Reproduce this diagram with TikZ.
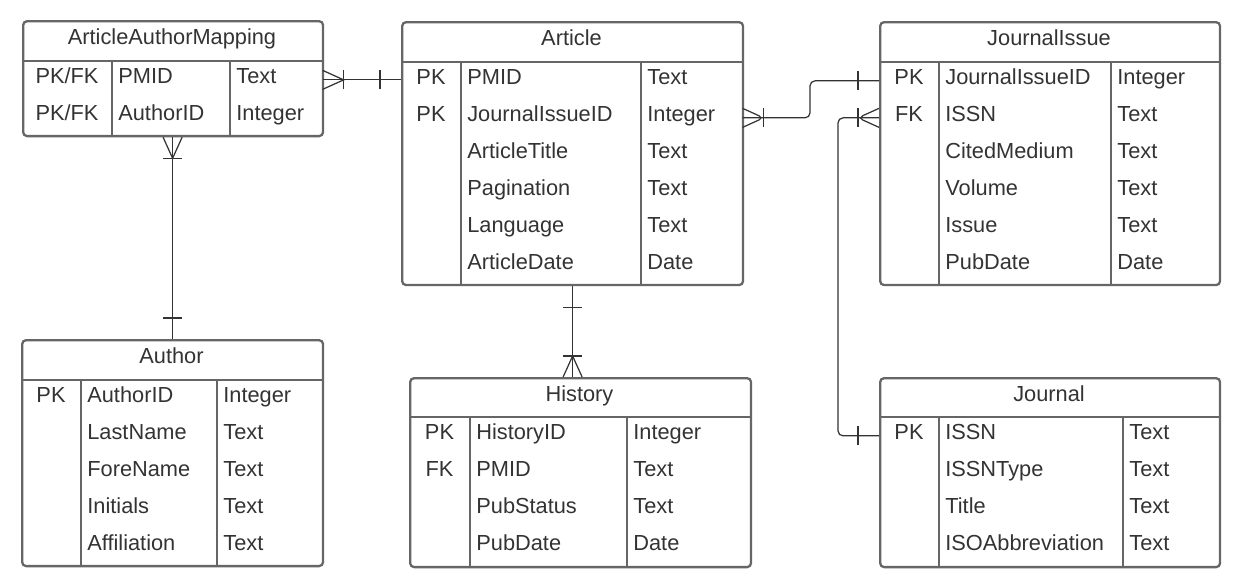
\documentclass[tikz,border=0pt]{standalone}
\usepackage{fontspec}
\setmainfont{Liberation Sans}
\usetikzlibrary{decorations.markings}

\definecolor{boxgray}{HTML}{666666}
\definecolor{ink}{HTML}{333333}

\tikzset{
  tbl/.style={draw=boxgray, line width=1.3pt, rounded corners=0.08cm, anchor=north west, inner sep=0pt},
  rule/.style={draw=boxgray, line width=1.3pt},
  rowbox/.style={anchor=north west, inner sep=0pt, minimum height=0.74cm},
  title/.style={anchor=base, inner sep=0pt, text=ink},
  keycell/.style={anchor=base, inner sep=0pt, text=ink},
  cell/.style={anchor=base west, inner sep=0pt, text=ink},
  rel/.style={draw=ink, line width=0.7pt},
  % crow's foot marks
  one start/.style={postaction={decorate, decoration={markings, mark=at position 0 with {\draw[rel] (0.42cm,-0.19cm) -- (0.42cm,0.19cm);}}}},
  one end/.style={postaction={decorate, decoration={markings, mark=at position 1 with {\draw[rel] (-0.42cm,-0.19cm) -- (-0.42cm,0.19cm);}}}},
  many start/.style={postaction={decorate, decoration={markings, mark=at position 0 with {\draw[rel] (0.42cm,-0.19cm) -- (0.42cm,0.19cm); \draw[rel] (0,-0.19cm) -- (0.42cm,0) -- (0,0.19cm);}}}},
  many end/.style={postaction={decorate, decoration={markings, mark=at position 1 with {\draw[rel] (-0.42cm,-0.19cm) -- (-0.42cm,0.19cm); \draw[rel] (0,-0.19cm) -- (-0.42cm,0) -- (0,0.19cm);}}}}
}

\begin{document}
\begin{tikzpicture}[x=0.02cm, y=-0.02cm, font=\fontsize{12.4}{15}\selectfont]
  \useasboundingbox (0,0) rectangle (1241,586);

  % ArticleAuthorMapping
  \node[tbl, minimum width=6cm, minimum height=2.3cm] (aam) at (22,20) {};
  \node[title] (aam-title) at (172,44.5) {ArticleAuthorMapping};
  \draw[rule] (22,61) -- (322,61) (112,61) -- (112,135) (230,61) -- (230,135);
  \node[rowbox, minimum width=6cm] (aam-r1) at (22,61) {};
  \node[rowbox, minimum width=6cm] (aam-r2) at (22,98) {};
  \node[keycell] (aam-k1) at (67,83.5) {PK/FK};
  \node[cell] (aam-f1) at (118,83.5) {PMID};
  \node[cell] (aam-t1) at (236,83.5) {Text};
  \node[keycell] (aam-k2) at (67,120.5) {PK/FK};
  \node[cell] (aam-f2) at (118,120.5) {AuthorID};
  \node[cell] (aam-t2) at (236,120.5) {Integer};

  % Article
  \node[tbl, minimum width=6.82cm, minimum height=5.26cm] (article) at (401,21) {};
  \node[title] (article-title) at (571.5,45) {Article};
  \draw[rule] (401,62) -- (742,62) (461,62) -- (461,284) (641,62) -- (641,284);
  \foreach \k/\f/\t [count=\i] in {PK/PMID/Text, PK/JournalIssueID/Integer, /ArticleTitle/Text, /Pagination/Text, /Language/Text, /ArticleDate/Date}{
    \node[rowbox, minimum width=6.82cm] (article-r\i) at (401,{62+37*(\i-1)}) {};
    \node[keycell] (article-k\i) at (431,{84.5+37*(\i-1)}) {\k};
    \node[cell] (article-f\i) at (467,{84.5+37*(\i-1)}) {\f};
    \node[cell] (article-t\i) at (647,{84.5+37*(\i-1)}) {\t};
  }

  % JournalIssue
  \node[tbl, minimum width=6.8cm, minimum height=5.26cm] (issue) at (879,21) {};
  \node[title] (issue-title) at (1049,45) {JournalIssue};
  \draw[rule] (879,62) -- (1219,62) (939,62) -- (939,284) (1111,62) -- (1111,284);
  \foreach \k/\f/\t [count=\i] in {PK/JournalIssueID/Integer, FK/ISSN/Text, /CitedMedium/Text, /Volume/Text, /Issue/Text, /PubDate/Date}{
    \node[rowbox, minimum width=6.8cm] (issue-r\i) at (879,{62+37*(\i-1)}) {};
    \node[keycell] (issue-k\i) at (909,{84.5+37*(\i-1)}) {\k};
    \node[cell] (issue-f\i) at (945,{84.5+37*(\i-1)}) {\f};
    \node[cell] (issue-t\i) at (1117,{84.5+37*(\i-1)}) {\t};
  }

  % Author
  \node[tbl, minimum width=6.02cm, minimum height=4.52cm] (author) at (21,339) {};
  \node[title] (author-title) at (171.5,363.5) {Author};
  \draw[rule] (21,380) -- (322,380) (81,380) -- (81,565) (217,380) -- (217,565);
  \foreach \k/\f/\t [count=\i] in {PK/AuthorID/Integer, /LastName/Text, /ForeName/Text, /Initials/Text, /Affiliation/Text}{
    \node[rowbox, minimum width=6.02cm] (author-r\i) at (21,{380+37*(\i-1)}) {};
    \node[keycell] (author-k\i) at (51,{402.5+37*(\i-1)}) {\k};
    \node[cell] (author-f\i) at (87,{402.5+37*(\i-1)}) {\f};
    \node[cell] (author-t\i) at (223,{402.5+37*(\i-1)}) {\t};
  }

  % History
  \node[tbl, minimum width=6.82cm, minimum height=3.78cm] (history) at (409,377) {};
  \node[title] (history-title) at (579.5,401) {History};
  \draw[rule] (409,417) -- (750,417) (470,417) -- (470,566) (627,417) -- (627,566);
  \foreach \k/\f/\t [count=\i] in {PK/HistoryID/Integer, FK/PMID/Text, /PubStatus/Text, /PubDate/Date}{
    \node[rowbox, minimum width=6.82cm] (history-r\i) at (409,{417+37*(\i-1)}) {};
    \node[keycell] (history-k\i) at (439.5,{439.5+37*(\i-1)}) {\k};
    \node[cell] (history-f\i) at (476,{439.5+37*(\i-1)}) {\f};
    \node[cell] (history-t\i) at (633,{439.5+37*(\i-1)}) {\t};
  }

  % Journal
  \node[tbl, minimum width=6.8cm, minimum height=3.78cm] (journal) at (879,377) {};
  \node[title] (journal-title) at (1049,401) {Journal};
  \draw[rule] (879,417) -- (1219,417) (939,417) -- (939,566) (1123,417) -- (1123,566);
  \foreach \k/\f/\t [count=\i] in {PK/ISSN/Text, /ISSNType/Text, /Title/Text, /ISOAbbreviation/Text}{
    \node[rowbox, minimum width=6.8cm] (journal-r\i) at (879,{417+37*(\i-1)}) {};
    \node[keycell] (journal-k\i) at (909,{439.5+37*(\i-1)}) {\k};
    \node[cell] (journal-f\i) at (945,{439.5+37*(\i-1)}) {\f};
    \node[cell] (journal-t\i) at (1129,{439.5+37*(\i-1)}) {\t};
  }

  % relationships
  \coordinate (jog1) at (810,0);
  \coordinate (jog2) at (838,0);
  \draw[rel, many start, one end] (aam-r1.east) -- (aam-r1.east -| article.west);
  \draw[rel, many start, one end] (aam.south -| author.north) -- (author.north);
  \draw[rel, one start, many end] (article.south) -- (article.south |- history.north);
  \draw[rel, many start, one end, rounded corners=0.1cm] (article-r2.east) -| (jog1 |- issue-r1.west) -- (issue-r1.west);
  \draw[rel, many start, one end, rounded corners=0.1cm] (issue-r2.west) -| (jog2 |- journal-r1.west) -- (journal-r1.west);
\end{tikzpicture}
\end{document}
